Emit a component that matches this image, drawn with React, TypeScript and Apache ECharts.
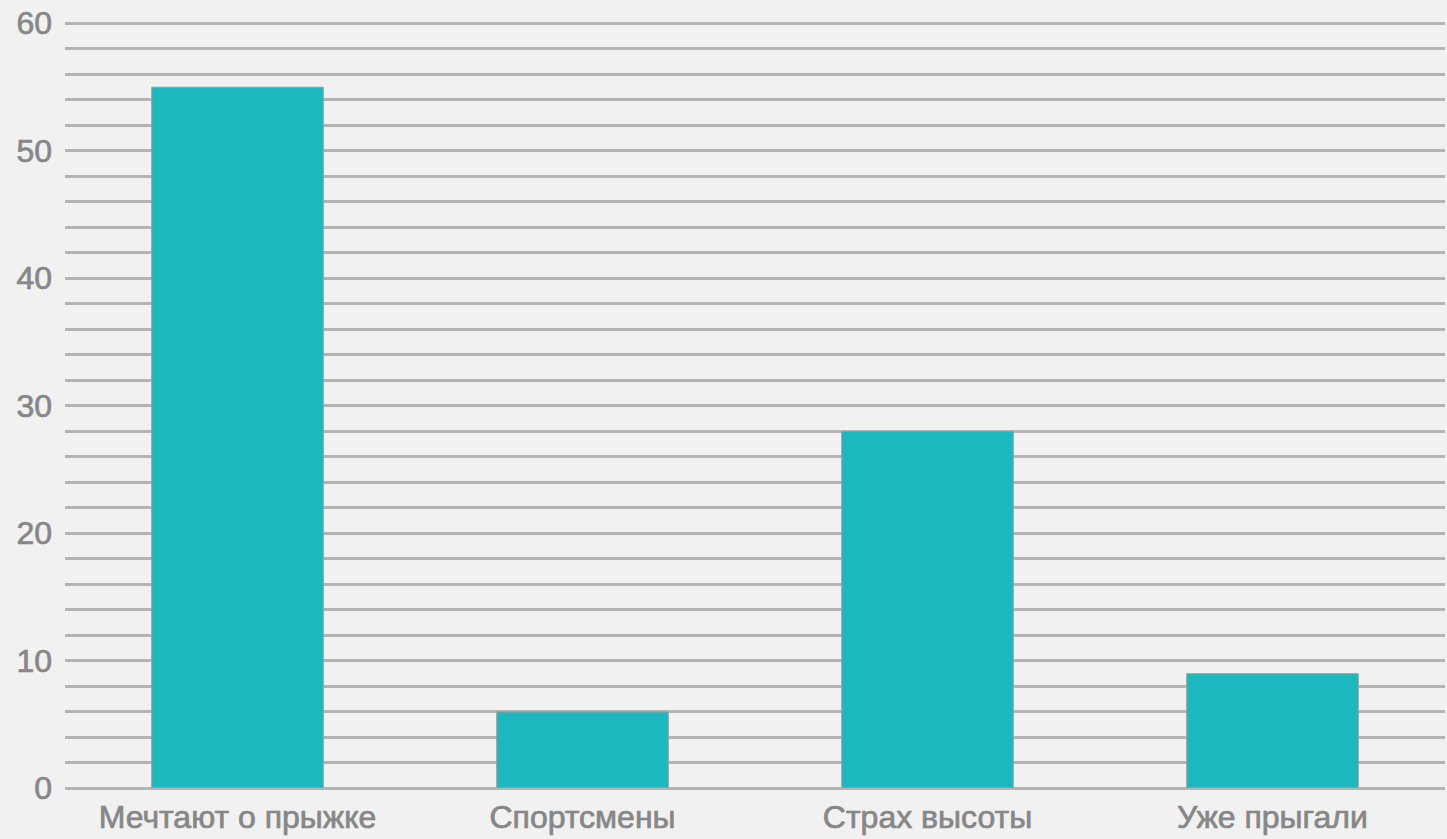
import React, { useEffect, useRef } from "react";
import * as echarts from "echarts";

const categories = ["Мечтают о прыжке", "Спортсмены", "Страх высоты", "Уже прыгали"];
const values = [55, 6, 28, 9];
const yMin = 0;
const yMax = 60;
const yStep = 2;
const labelStep = 10;

const labelStyle = {
  color: "#878787",
  fontSize: 32,
  fontFamily: "Liberation Sans, Arial, sans-serif",
  textBorderColor: "#878787",
  textBorderWidth: 0.7,
};

export default function App() {
  const ref = useRef<HTMLDivElement>(null);
  useEffect(() => {
    if (!ref.current) return;
    const chart = echarts.init(ref.current, undefined, { renderer: "svg" });
    chart.setOption({
      animation: false,
      backgroundColor: "#f1f1f1",
      grid: { left: 65, right: 2, top: 23, bottom: 51 },
      xAxis: {
        type: "category",
        data: categories,
        axisLine: { show: false },
        axisTick: { show: false },
        axisLabel: { ...labelStyle, margin: 13, interval: 0, hideOverlap: false },
      },
      yAxis: {
        type: "value",
        min: yMin,
        max: yMax,
        interval: yStep,
        axisLine: { show: false },
        axisTick: { show: false },
        axisLabel: {
          ...labelStyle,
          margin: 13,
          formatter: (v: number) => (v % labelStep === 0 ? String(v) : ""),
        },
        splitLine: { show: true, lineStyle: { color: "#b4b4b4", width: 3 } },
      },
      series: [
        {
          type: "bar",
          data: values,
          barWidth: "50%",
          itemStyle: { color: "#1db8bf", borderColor: "#8a9e9e", borderWidth: 1 },
        },
      ],
    });
    return () => chart.dispose();
  }, []);
  return (
    <div
      ref={ref}
      style={{ position: "fixed", left: 0, top: 0, width: 1447, height: 839 }}
    />
  );
}
